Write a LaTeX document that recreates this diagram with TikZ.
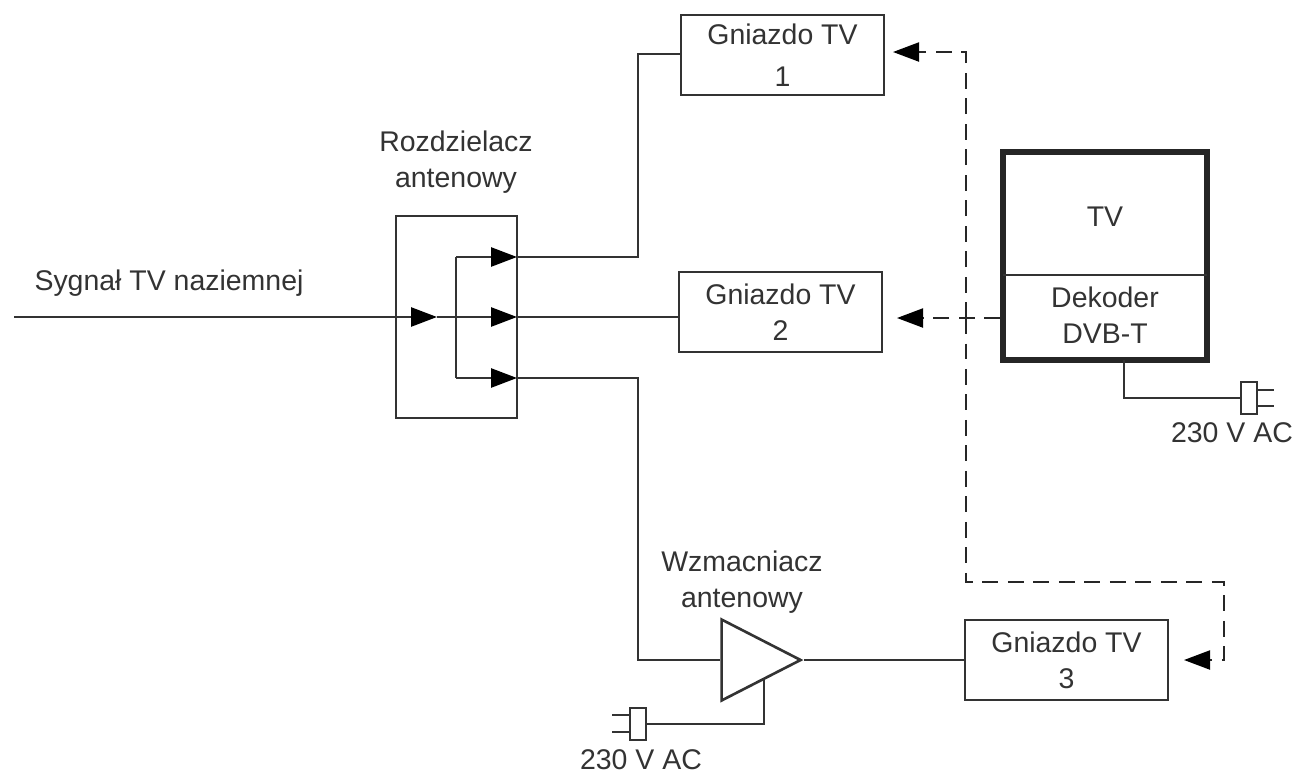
\documentclass[tikz,border=0pt]{standalone}
\usepackage{fontspec}
\setmainfont{Liberation Sans}
\usetikzlibrary{shapes.geometric, arrows.meta, positioning}
\definecolor{lineink}{HTML}{333333}

\begin{document}
\begin{tikzpicture}[x=0.02cm, y=-0.02cm, font=\fontsize{16.2}{20.4}\selectfont, text=lineink]
\tikzstyle{socketBox} = [rectangle, minimum width=4.06cm, minimum height=1.6cm, inner sep=0pt, align=center, draw=lineink, line width=1.5pt]
\tikzstyle{splitBox} = [rectangle, minimum width=2.42cm, minimum height=4.04cm, inner sep=0pt, draw=lineink, line width=1.5pt]
\tikzstyle{tvBox} = [rectangle, minimum width=4.08cm, minimum height=4.16cm, inner sep=0pt, draw=black!85, line width=3.2pt]
\tikzstyle{ampShape} = [isosceles triangle, isosceles triangle stretches, shape border rotate=0, minimum width=1.62cm, minimum height=1.58cm, inner sep=0pt, draw=lineink, line width=1.5pt]
\tikzstyle{plugBox} = [rectangle, minimum width=0.32cm, minimum height=0.64cm, inner sep=0pt, draw=lineink, line width=1.3pt]
\tikzstyle{label} = [align=center, inner sep=0pt]
\tikzstyle{wire} = [draw=lineink, line width=1.5pt]
\tikzstyle{signal} = [wire, -{Triangle[length=0.52cm, width=0.38cm, color=black]}]
\tikzstyle{link} = [draw=black!85, line width=1.2pt, dash pattern=on 0.32cm off 0.19cm]
\tikzstyle{linkTip} = [link, -{Triangle[length=0.52cm, width=0.38cm, color=black]}]
\useasboundingbox (0,0) rectangle (1299,778);

\node (socket1) [socketBox] at (782.5,55) {Gniazdo TV\\[0.12cm]1};
\node (socket2) [socketBox] at (780.5,312) {Gniazdo TV\\2};
\node (socket3) [socketBox] at (1066.5,660) {Gniazdo TV\\3};
\node (splitter) [splitBox] at (456.5,317) {};
\node (tv) [tvBox] at (1105,256) {};
\node (tvname) [label] at (1105,217) {TV};
\node (decoder) [label] at (1105,315) {Dekoder\\DVB-T};
\node (amp) [ampShape, anchor=apex] at (804,660) {};
\node (plugtv) [plugBox] at (1249,398) {};
\node (plugamp) [plugBox] at (638,724) {};

\node (signalname) [label] at (169,283) {Sygnał TV naziemnej};
\node (splittername) [label] at (456,162) {Rozdzielacz\\antenowy};
\node (ampname) [label] at (742,582) {Wzmacniacz\\antenowy};
\node (mainstv) [label] at (1232,433) {230 V AC};
\node (mainsamp) [label] at (641,760) {230 V AC};

\coordinate (source) at (14,317);
\coordinate (inlet) at (437,317);
\coordinate (hub) at (456,317);
\coordinate (hubtop) at (456,257);
\coordinate (hubbottom) at (456,378);
\coordinate (tapa) at (517,257);
\coordinate (tapb) at (517,317);
\coordinate (tapc) at (517,378);
\coordinate (branch) at (966,318);
\coordinate (tvdivl) at (1003,275);
\coordinate (tvdivr) at (1207,275);
\coordinate (tvtap) at (1124,360);
\coordinate (amptap) at (764,680);

\draw[wire] (tvdivl) -- (tvdivr);

% splitter inside
\draw[signal] (source) -- (inlet);
\draw[wire] (inlet) -- (hub);
\draw[wire] (hubtop) -- (hubbottom);
\draw[signal] (hubtop) -- (tapa);
\draw[signal] (hub) -- (tapb);
\draw[signal] (hubbottom) -- (tapc);

% outputs
\draw[wire] (tapa) -| (638,54) -- (socket1.west |- 0,54);
\draw[wire] (tapb) -- (socket2.west |- tapb);
\draw[wire] (tapc) -| (638,660) -- (amp.lower side);
\draw[wire] (amp.apex) -- (socket3.west);

% mains
\draw[wire] (tvtap) |- (plugtv.west);
\draw[wire] (amptap) |- (plugamp.east);
\draw[wire] (plugtv.east |- 0,390) -- (1274,390);
\draw[wire] (plugtv.east |- 0,406) -- (1274,406);
\draw[wire] (plugamp.west |- 0,715) -- (612,715);
\draw[wire] (plugamp.west |- 0,732) -- (612,732);

% dashed links
\draw[linkTip] (tv.west |- branch) -- (897,318);
\draw[linkTip] (branch) |- (893,52);
\draw[linkTip] (branch) -- (966,582) -- (1224,582) -- (1224,660) -- (1184,660);

\end{tikzpicture}
\end{document}
